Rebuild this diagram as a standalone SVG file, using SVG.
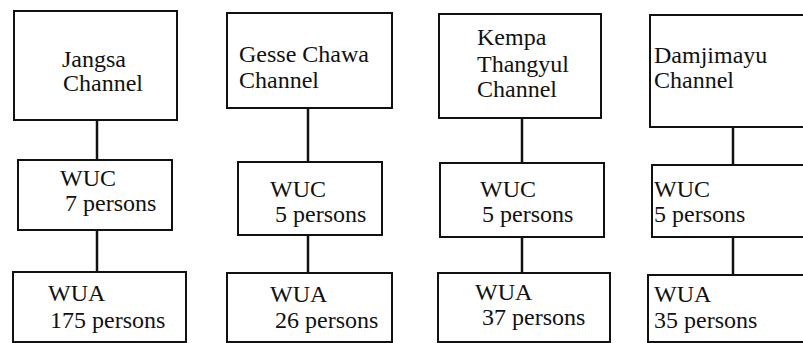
<svg xmlns="http://www.w3.org/2000/svg" width="803" height="343" viewBox="0 0 803 343">
<style>
.box{fill:#fff;stroke:#111;stroke-width:2}
.ln{stroke:#111;stroke-width:2.5;fill:none}
text{font-family:"Liberation Serif","Times New Roman",Times,"DejaVu Serif","Noto Serif",serif;font-size:24px;fill:#111}
</style>
<rect width="803" height="343" fill="#fff"/>
<g id="connectors">
<line class="ln" x1="97" y1="120" x2="97" y2="160"/>
<line class="ln" x1="97" y1="230" x2="97" y2="272"/>
<line class="ln" x1="308" y1="108" x2="308" y2="162"/>
<line class="ln" x1="308" y1="235" x2="308" y2="273"/>
<line class="ln" x1="522" y1="118" x2="522" y2="163"/>
<line class="ln" x1="522" y1="237" x2="522" y2="273"/>
<line class="ln" x1="733" y1="127" x2="733" y2="165"/>
<line class="ln" x1="733" y1="237" x2="733" y2="275"/>
</g>
<g id="jangsa"><rect class="box" x="14" y="11" width="163" height="109"/><text x="62" y="67" style="font-family:'Liberation Serif',serif">Jangsa</text><text x="63" y="91" style="font-family:'Liberation Serif',serif">Channel</text></g>
<g id="wuc1"><rect class="box" x="18" y="160" width="154" height="70"/><text x="60" y="186">WUC</text><text x="65" y="211">7 persons</text></g>
<g id="wua1"><rect class="box" x="13" y="272" width="173" height="70"/><text x="48" y="301">WUA</text><text x="50" y="328">175 persons</text></g>
<g id="gesse"><rect class="box" x="227" y="13" width="165" height="95"/><text x="239" y="62">Gesse Chawa</text><text x="239" y="88">Channel</text></g>
<g id="wuc2"><rect class="box" x="238" y="162" width="144" height="73"/><text x="270" y="197">WUC</text><text x="275" y="222">5 persons</text></g>
<g id="wua2"><rect class="box" x="227" y="273" width="165" height="69"/><text x="270" y="302">WUA</text><text x="275" y="328">26 persons</text></g>
<g id="kempa"><rect class="box" x="439" y="14" width="162" height="104"/><text x="477" y="45">Kempa</text><text x="477" y="72">Thangyul</text><text x="477" y="97">Channel</text></g>
<g id="wuc3"><rect class="box" x="440" y="163" width="164" height="74"/><text x="480" y="197">WUC</text><text x="482" y="222">5 persons</text></g>
<g id="wua3"><rect class="box" x="438" y="273" width="172" height="69"/><text x="475" y="300">WUA</text><text x="482" y="325">37 persons</text></g>
<g id="damjimayu"><rect class="box" x="650" y="15" width="160" height="112"/><text x="654" y="63">Damjimayu</text><text x="654" y="88">Channel</text></g>
<g id="wuc4"><rect class="box" x="652" y="165" width="160" height="72"/><text x="654" y="197">WUC</text><text x="654" y="222">5 persons</text></g>
<g id="wua4"><rect class="box" x="648" y="275" width="160" height="67"/><text x="654" y="302">WUA</text><text x="654" y="328">35 persons</text></g>
</svg>
